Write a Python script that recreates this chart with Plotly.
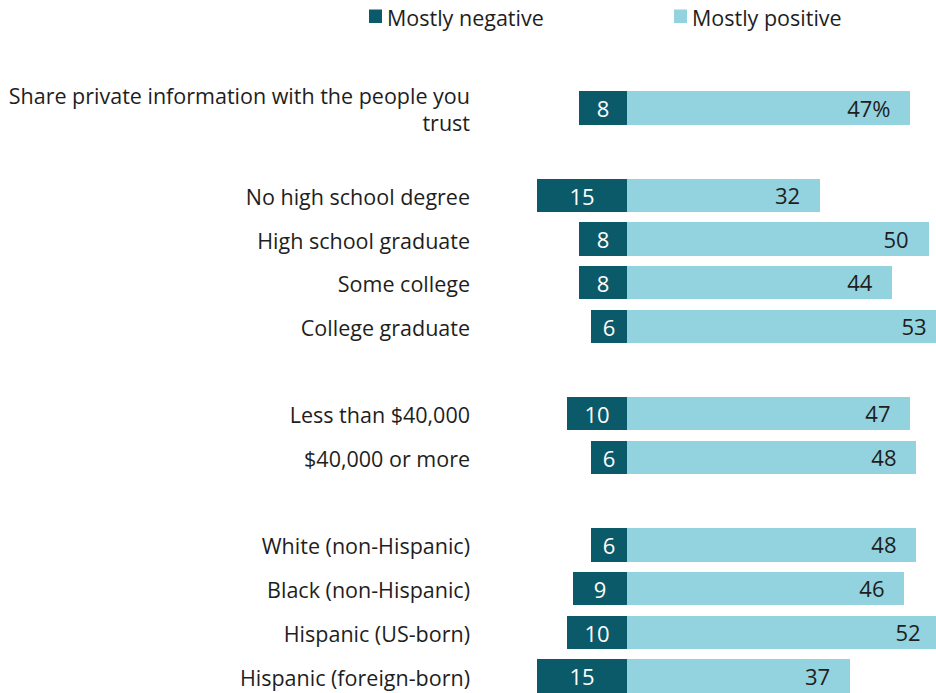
import plotly.graph_objects as go

# Row labels, grouped; a blank row separates consecutive groups
groups = [
    ["Share private information with the people you<br>trust"],
    ["No high school degree", "High school graduate", "Some college", "College graduate"],
    ["Less than $40,000", "$40,000 or more"],
    ["White (non-Hispanic)", "Black (non-Hispanic)", "Hispanic (US-born)", "Hispanic (foreign-born)"],
]
mostly_negative = [8, 15, 8, 8, 6, 10, 6, 6, 9, 10, 15]
mostly_positive = [47, 32, 50, 44, 53, 47, 48, 48, 46, 52, 37]

NEG_COLOR = "#0b5a6a"
POS_COLOR = "#93d3df"
TEXT_COLOR = "#1e1e1e"
FONT = "Open Sans, Liberation Sans, Arial, sans-serif"
LABEL_SIZE = 21.5
VALUE_SIZE = 22

W, H = 936, 693
MARGIN_L = 475

# Row positions with a one-row gap between groups
labels, rows = [], []
pos = 0
for g in groups:
    for lab in g:
        labels.append(lab)
        rows.append(pos)
        pos += 1
    pos += 1

pos_text = [f"{v}%" if i == 0 else str(v) for i, v in enumerate(mostly_positive)]
LABEL_INSET = 3.3   # keeps value labels inside the right end of each bar
LABEL_DROP = 0.07   # small downward nudge so the digits sit centred on the bar

fig = go.Figure()
fig.add_trace(go.Bar(
    y=rows, x=[-v for v in mostly_negative], orientation="h",
    marker=dict(color=NEG_COLOR, line=dict(width=0)),
    width=0.76, name="Mostly negative",
    text=[str(v) for v in mostly_negative], textposition="inside",
    insidetextanchor="middle", textangle=0, constraintext="none",
    insidetextfont=dict(color="white", size=VALUE_SIZE, family=FONT),
    hoverinfo="skip",
))
fig.add_trace(go.Bar(
    y=rows, x=mostly_positive, orientation="h",
    marker=dict(color=POS_COLOR, line=dict(width=0)),
    width=0.76, name="Mostly positive", hoverinfo="skip",
))
fig.add_trace(go.Scatter(
    y=[r + LABEL_DROP for r in rows], x=[v - LABEL_INSET for v in mostly_positive],
    mode="text", text=pos_text, textposition="middle left",
    textfont=dict(color=TEXT_COLOR, size=VALUE_SIZE, family=FONT),
    cliponaxis=False, hoverinfo="skip", showlegend=False,
))


def px_x(px):
    return (px - MARGIN_L) / (W - MARGIN_L)


def px_y(py):
    return 1 - py / H


# Legend swatches and labels along the top
legend_items = [("Mostly negative", NEG_COLOR, 369), ("Mostly positive", POS_COLOR, 674)]
for name, color, left in legend_items:
    fig.add_shape(type="rect", xref="paper", yref="paper",
                  x0=px_x(left), x1=px_x(left + 13), y0=px_y(23), y1=px_y(9.5),
                  fillcolor=color, line=dict(width=0))
    fig.add_annotation(xref="paper", yref="paper", x=px_x(left + 16), y=px_y(17.5),
                       text=name, showarrow=False, xanchor="left", yanchor="middle",
                       font=dict(color=TEXT_COLOR, size=LABEL_SIZE, family=FONT))

fig.update_layout(
    width=W, height=H,
    margin=dict(l=MARGIN_L, r=0, t=0, b=0),
    paper_bgcolor="white", plot_bgcolor="white",
    barmode="relative", bargap=0,
    showlegend=False,
    font=dict(family=FONT, color=TEXT_COLOR, size=LABEL_SIZE),
    xaxis=dict(visible=False, range=[-(627 - MARGIN_L) / 6.03, (W - 627) / 6.03]),
    yaxis=dict(
        range=[13 + 17 / 43.69, -108 / 43.69],
        tickvals=rows, ticktext=labels, ticks="",
        showgrid=False, zeroline=False, showline=False,
        tickfont=dict(size=LABEL_SIZE, color=TEXT_COLOR, family=FONT),
        ticklabelstandoff=4, ticklabelshift=-2,
    ),
)

fig.write_html("out.html")
